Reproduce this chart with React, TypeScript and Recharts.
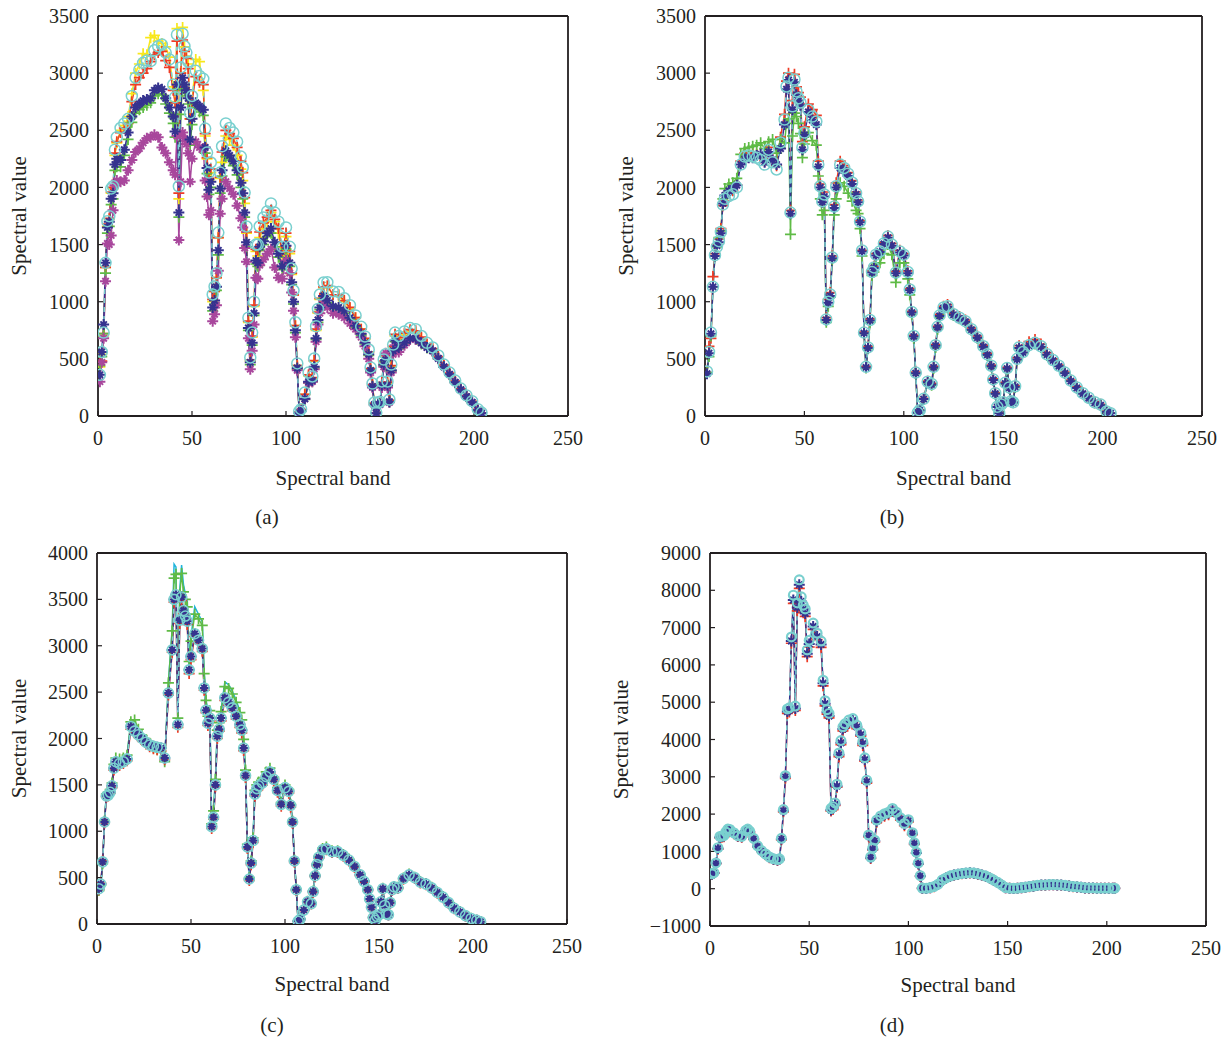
import React from "react";
import { LineChart, Line, XAxis, YAxis, Label } from "recharts";

const bands = [1,2,3,4,5,6,7,8,9,10,12,14,16,18,20,22,24,26,28,30,32,34,36,38,40,41,42,43,44,45,46,47,48,49,50,52,54,56,57,58,59,60,61,62,63,64,65,66,68,70,72,74,76,77,78,79,80,81,82,83,84,85,86,88,90,92,94,96,98,100,102,103,104,105,106,107,108,110,112,114,115,116,117,118,120,122,125,128,131,134,137,140,142,144,145,146,147,148,149,150,151,152,153,154,155,156,157,158,160,163,166,169,172,175,178,181,184,187,190,193,196,199,202,204];
const bandsD = [1,2,3,4,5,6,7,8,9,10,12,14,16,18,19,20,22,24,26,28,30,32,34,35,36,37,38,39,40,41,42,43,44,45,46,47,48,49,50,52,54,56,57,58,59,60,61,62,63,64,65,66,67,68,70,72,74,76,77,78,79,80,81,82,83,84,86,88,90,92,94,96,98,100,102,103,104,105,106,107,109,111,113,115,117,119,121,123,125,127,129,131,133,135,137,139,141,143,145,147,149,151,153,155,157,159,161,163,165,167,169,171,173,175,177,179,181,183,185,187,189,191,193,195,197,199,201,203,204];
const xTicks = [0,50,100,150,200,250];

const aYellow = [430,540,700,1300,1660,1720,1950,1990,2280,2390,2500,2540,2620,2820,3000,3080,3170,3160,3310,3330,3280,3260,3230,3140,2880,2750,3390,1900,3000,3400,3230,3150,3080,2600,2750,3120,3100,2850,2450,2250,2060,2130,1000,1090,1210,1560,2080,2220,2450,2420,2370,2280,2160,2060,1860,1600,820,480,690,960,1440,1400,1560,1640,1700,1780,1700,1600,1400,1570,1420,1240,1060,790,440,35,55,190,350,330,480,750,900,1020,1120,1130,1060,1050,1000,940,860,760,670,560,410,270,110,28,110,115,285,470,520,285,135,430,600,700,670,710,740,730,680,620,580,515,440,370,300,235,175,125,55,28];
const aRed = [470,480,720,1300,1680,1730,1960,2000,2300,2400,2480,2520,2560,2750,2900,2960,3000,3040,3100,3160,3180,3190,3110,3050,2850,2740,3280,1950,3000,3290,3190,3130,3040,2600,2750,2970,2920,2900,2470,2260,2080,2160,1020,1090,1210,1560,2090,2310,2500,2470,2430,2350,2230,2130,1910,1610,830,490,700,970,1460,1450,1610,1690,1740,1800,1720,1640,1430,1600,1440,1250,1060,790,440,35,55,190,360,335,485,760,910,1030,1130,1140,1060,1060,1010,950,860,760,680,560,415,275,110,28,110,118,295,480,530,295,138,440,610,715,685,725,755,745,690,630,590,520,445,375,305,238,178,128,58,28];
const aGreen = [440,520,720,1250,1600,1660,1850,1900,2150,2180,2180,2280,2420,2570,2650,2680,2700,2720,2740,2800,2820,2810,2730,2650,2560,2440,2860,1740,2640,2900,2850,2800,2730,2370,2550,2700,2660,2630,2300,2120,1940,2000,920,980,1100,1410,1950,2100,2270,2240,2190,2110,2000,1900,1740,1480,750,450,620,880,1330,1310,1450,1500,1570,1600,1480,1390,1280,1460,1310,1150,980,730,410,25,45,145,290,300,420,670,820,930,1030,990,940,930,900,845,775,705,630,530,395,255,98,25,98,103,265,440,480,265,122,395,560,650,590,630,670,670,630,595,565,500,428,362,292,228,168,118,48,24];
const aMagenta = [300,470,680,1180,1510,1500,1580,1800,2020,2060,2050,2060,2150,2240,2310,2340,2390,2430,2440,2460,2440,2350,2300,2220,2150,2110,2450,1540,2050,2480,2430,2380,2300,2050,2250,2400,2350,2340,2060,1920,1760,1800,830,890,970,1270,1770,1900,2050,1990,1940,1840,1730,1650,1470,1350,680,410,570,800,1210,1200,1320,1370,1420,1460,1300,1210,1200,1360,1250,1080,920,690,400,30,45,150,290,300,410,650,800,900,1010,950,900,890,860,810,760,690,610,500,380,250,95,25,95,100,250,430,550,250,120,380,540,620,560,620,670,670,640,600,570,505,430,365,295,230,170,120,50,25];
const aNavy = [360,560,800,1340,1650,1700,1900,1950,2200,2250,2240,2330,2480,2620,2700,2730,2760,2770,2780,2850,2870,2860,2780,2700,2620,2490,2900,1780,2700,2960,2900,2850,2780,2420,2600,2740,2710,2680,2350,2170,1980,2050,950,1010,1130,1450,1990,2150,2320,2280,2230,2150,2040,1950,1780,1520,770,470,640,900,1360,1340,1480,1530,1600,1640,1520,1420,1310,1490,1340,1170,1000,750,420,25,45,150,300,310,430,680,840,950,1050,1010,960,950,920,860,790,720,640,540,400,260,100,25,100,105,270,450,490,270,125,400,570,660,600,640,680,680,640,600,570,505,430,365,295,230,170,120,50,25];
const aTeal = [360,560,730,1340,1705,1748,1990,2010,2330,2440,2520,2560,2600,2800,2960,3030,3090,3110,3105,3200,3235,3250,3180,3120,2900,2790,3337,2010,3050,3345,3235,3180,3100,2650,2800,3020,2975,2950,2515,2305,2130,2218,1063,1133,1250,1605,2130,2360,2560,2520,2480,2400,2270,2174,1955,1658,860,512,730,1000,1500,1500,1660,1737,1790,1860,1780,1700,1480,1650,1480,1290,1098,820,460,40,60,205,380,346,503,785,937,1063,1168,1170,1090,1085,1030,970,880,780,696,582,425,284,118,30,118,125,302,494,540,302,144,450,625,730,700,740,770,760,700,640,600,530,450,380,310,240,180,130,60,30];

const bRed = [380,610,680,1220,1420,1500,1550,1640,1840,1880,1950,1970,2020,2230,2300,2310,2300,2290,2260,2230,2350,2250,2190,2440,2640,2930,3000,1800,2760,2990,2880,2830,2790,2400,2530,2730,2680,2630,2230,2030,1900,1960,860,1020,1080,1400,1850,2040,2230,2190,2130,2060,1960,1890,1710,1450,735,435,610,850,1270,1310,1420,1450,1520,1580,1510,1265,1450,1420,1270,1115,915,705,385,32,52,155,305,285,435,625,785,890,960,975,900,870,840,770,700,620,550,445,325,205,82,26,102,122,295,425,255,135,122,265,510,615,590,650,670,630,555,500,445,385,315,255,205,165,125,102,42,26];
const bGreen = [380,520,700,1130,1400,1480,1560,1620,1900,1990,2030,2040,2080,2290,2340,2350,2360,2370,2390,2340,2400,2420,2300,2420,2390,2560,2600,1590,2450,2650,2620,2560,2470,2260,2380,2480,2410,2370,2100,1900,1760,1800,820,960,1040,1370,1760,1900,2040,2010,1950,1880,1800,1770,1640,1400,720,420,590,820,1230,1260,1330,1340,1420,1500,1410,1170,1340,1340,1200,1060,890,680,370,28,48,145,290,270,415,600,760,865,935,945,880,850,820,750,680,600,530,430,315,195,78,24,98,115,280,410,245,125,115,250,490,590,555,615,630,600,530,485,435,375,305,245,195,155,115,95,38,24];
const bNavy = [370,550,720,1130,1400,1490,1520,1600,1860,1930,1970,1990,2020,2200,2250,2260,2260,2280,2290,2220,2310,2240,2200,2340,2550,2860,2940,1770,2680,2920,2810,2760,2720,2330,2460,2660,2590,2550,2180,2000,1870,1920,840,990,1050,1380,1820,2000,2170,2150,2100,2030,1940,1870,1695,1440,725,425,595,835,1255,1295,1405,1435,1505,1560,1490,1250,1430,1405,1250,1100,905,695,375,28,48,148,295,275,425,615,775,875,945,955,885,855,825,755,685,605,535,435,315,195,78,24,98,118,285,415,245,128,118,255,495,595,555,615,635,605,535,485,435,375,305,245,195,155,115,95,38,24];
const bTeal = [390,560,730,1130,1407,1480,1530,1610,1850,1900,1925,1940,2000,2200,2270,2280,2270,2260,2240,2200,2330,2220,2157,2393,2594,2883,2960,1780,2710,2944,2840,2780,2743,2350,2480,2680,2620,2577,2200,2010,1878,1938,845,1000,1063,1387,1833,2010,2200,2170,2120,2043,1950,1878,1702,1448,730,430,600,840,1260,1300,1412,1440,1510,1570,1500,1255,1440,1412,1260,1107,910,700,380,30,50,150,300,280,430,620,780,880,950,960,890,860,830,760,690,610,540,440,320,200,80,25,100,120,290,420,250,130,120,260,500,600,560,620,640,610,540,490,440,380,310,250,200,160,120,100,40,25];

const cCyan = [350,410,640,1120,1410,1430,1460,1530,1730,1800,1790,1800,1830,2170,2190,2090,2020,1980,1940,1895,1885,1870,1760,2610,3190,3880,3850,2240,3600,3870,3660,3560,3480,2860,3100,3420,3340,3260,2730,2430,2260,2320,1090,1230,1570,2100,2190,2310,2610,2580,2510,2410,2300,2210,2000,1670,865,505,685,935,1445,1505,1535,1575,1645,1685,1585,1475,1315,1505,1455,1295,1115,695,378,33,53,156,246,226,356,526,646,731,816,831,791,791,751,701,626,536,466,376,273,183,73,41,83,103,246,386,206,113,103,236,376,406,396,496,541,506,456,436,396,346,296,236,176,136,93,63,41,26];
const cGreen = [360,420,650,1110,1400,1420,1450,1520,1720,1790,1780,1790,1820,2180,2200,2100,2030,1990,1950,1900,1880,1860,1750,2600,3160,3730,3770,2220,3550,3780,3580,3500,3420,2830,3050,3340,3290,3220,2700,2410,2240,2300,1080,1220,1560,2090,2170,2290,2560,2540,2480,2390,2280,2200,1990,1660,860,500,680,930,1440,1500,1530,1570,1640,1680,1580,1470,1310,1500,1450,1290,1110,690,375,32,52,155,245,225,355,525,645,730,815,830,790,790,750,700,625,535,465,375,272,182,72,41,82,102,245,385,205,112,102,235,375,405,395,495,540,505,455,435,395,345,295,235,175,135,92,62,41,26];
const cRed = [370,440,680,1090,1370,1380,1410,1470,1660,1730,1710,1730,1760,2100,2060,2020,1980,1940,1910,1890,1880,1870,1770,2470,2930,3470,3520,2120,3240,3490,3350,3290,3230,2700,2850,3100,3030,2940,2520,2280,2140,2190,1030,1130,1480,2000,2080,2190,2410,2360,2300,2210,2120,2060,1870,1580,815,470,640,880,1380,1440,1470,1500,1570,1620,1540,1420,1270,1450,1410,1260,1085,665,360,28,48,145,232,215,340,510,630,710,790,800,770,770,730,680,610,520,450,360,262,175,68,38,78,97,235,372,195,107,97,225,362,392,382,482,522,492,442,422,382,332,282,225,165,125,87,58,38,24];
const cNavy = [380,430,670,1100,1380,1390,1420,1490,1680,1750,1730,1750,1780,2130,2080,2040,2000,1960,1930,1916,1905,1897,1790,2490,2955,3500,3550,2150,3276,3525,3380,3320,3265,2740,2885,3130,3060,2970,2545,2305,2165,2220,1050,1150,1500,2025,2100,2220,2440,2390,2330,2240,2150,2090,1897,1600,830,485,657,900,1400,1460,1490,1520,1590,1640,1560,1440,1290,1470,1430,1280,1100,680,370,30,50,150,240,220,350,520,640,720,800,810,780,780,740,690,620,530,460,370,270,180,70,40,80,100,240,380,200,110,100,230,370,400,390,490,530,500,450,430,390,340,290,230,170,130,90,60,40,25];
const cTeal = [380,430,670,1100,1380,1390,1420,1490,1680,1750,1730,1750,1780,2130,2080,2040,2000,1960,1930,1916,1905,1897,1790,2490,2955,3500,3550,2150,3276,3525,3380,3320,3265,2740,2885,3130,3060,2970,2545,2305,2165,2220,1050,1150,1500,2025,2100,2220,2440,2390,2330,2240,2150,2090,1897,1600,830,485,657,900,1400,1460,1490,1520,1590,1640,1560,1440,1290,1470,1430,1280,1100,680,370,30,50,150,240,220,350,520,640,720,800,810,780,780,740,690,620,530,460,370,270,180,70,40,80,100,240,380,200,110,100,230,370,400,390,490,530,500,450,430,390,340,290,230,170,130,90,60,40,25];

const dRed = [380,420,670,1060,1360,1380,1390,1490,1570,1560,1470,1400,1380,1530,1570,1510,1320,1120,1000,910,830,780,760,780,1310,2060,2960,4700,4740,6580,7650,4780,7450,8050,7600,7400,7300,6220,6480,6950,6680,6470,5440,4900,4680,4580,2080,2120,2230,2720,3540,3860,4230,4320,4430,4470,4290,4090,3840,3420,2830,1390,810,1040,1250,1780,1880,1940,1980,2070,1980,1840,1690,1790,1450,1190,950,660,330,10,5,25,55,110,220,280,330,360,380,400,410,420,410,390,360,330,280,225,165,95,25,10,5,10,25,35,55,65,85,95,95,105,105,100,95,85,70,55,45,35,20,15,15,10,10,10,10,10,10];
const dNavy = [390,420,680,1080,1380,1400,1410,1500,1590,1570,1490,1410,1390,1550,1590,1530,1340,1140,1010,920,840,790,770,790,1330,2090,3000,4750,4790,6640,7740,4830,7540,8150,7700,7490,7380,6300,6560,7030,6760,6550,5510,4960,4730,4630,2110,2160,2260,2750,3590,3910,4280,4370,4470,4510,4340,4130,3890,3460,2870,1420,830,1060,1280,1810,1920,1980,2020,2110,2010,1870,1720,1820,1480,1210,960,670,340,15,8,28,58,115,225,285,335,365,385,405,415,425,415,395,365,335,285,228,168,98,28,12,8,12,28,38,58,68,88,98,98,108,108,102,98,88,72,58,48,38,22,18,18,12,12,12,12,12,12];
const dTeal = [400,430,690,1100,1400,1410,1420,1520,1600,1590,1500,1420,1400,1560,1600,1540,1350,1150,1020,930,850,800,780,800,1350,2120,3030,4820,4850,6750,7870,4895,7660,8280,7825,7600,7500,6400,6660,7120,6850,6640,5590,5040,4800,4700,2150,2200,2300,2800,3640,3970,4340,4420,4520,4560,4385,4180,3940,3510,2910,1440,850,1090,1300,1840,1950,2010,2050,2150,2050,1900,1750,1850,1500,1230,980,690,350,18,10,30,60,120,230,290,340,370,390,410,420,430,420,400,370,340,290,230,170,100,30,15,10,15,30,40,60,70,90,100,100,110,110,105,100,90,75,60,50,40,25,20,20,15,15,15,15,15,15];

const YELLOW = "#f8e71c", RED = "#ee3b24", GREEN = "#5fbb46", MAGENTA = "#a8479c", NAVY = "#35338f", TEAL = "#7ad0cf", CYAN = "#1fb4dc";
const INK = "#231f20";
const FONT = "'Liberation Serif', serif";

const PLUS = "M-5.5 0H5.5M0-5.5V5.5";
const STAR = "M-5.5 0H5.5M0-5.5V5.5M-3.2-3.2L3.2 3.2M-3.2 3.2L3.2-3.2";

function marker(kind: string, color: string, size: number, ring: number) {
  return (p: any) => {
    if (p.cx == null || p.cy == null) return <g key={p.index} />;
    if (kind === "circle") return <circle key={p.index} cx={p.cx} cy={p.cy} r={size} fill="none" stroke={color} strokeWidth={ring} />;
    return <path key={p.index} transform={`translate(${p.cx},${p.cy})`} d={kind === "star" ? STAR : PLUS} fill="none" stroke={color} strokeWidth={kind === "star" ? 2 : 1.7} />;
  };
}

type S = { key: string; color: string; kind: string; values: number[]; dash?: string };
type Panel = { caption: string; capX: number; capY: number; left: number; top: number; L: number; R: number; T: number; B: number; yTicks: number[]; labelX: number; xLabelOffset: number; xs: number[]; series: S[]; r: number; ring: number };

const panels: Panel[] = [
  { caption: "(a)", capX: 267, capY: 517, left: 0, top: 0, L: 98, R: 568, T: 16, B: 416, yTicks: [0,500,1000,1500,2000,2500,3000,3500], labelX: 19, xLabelOffset: 54, xs: bands, r: 5.5, ring: 1.5, series: [
    { key: "yellow", color: YELLOW, kind: "plus", values: aYellow },
    { key: "red", color: RED, kind: "plus", values: aRed },
    { key: "green", color: GREEN, kind: "plus", values: aGreen },
    { key: "magenta", color: MAGENTA, kind: "star", values: aMagenta },
    { key: "navy", color: NAVY, kind: "star", values: aNavy },
    { key: "teal", color: TEAL, kind: "circle", values: aTeal, dash: "5 4" },
  ]},
  { caption: "(b)", capX: 892, capY: 517, left: 600, top: 0, L: 705, R: 1202, T: 16, B: 416, yTicks: [0,500,1000,1500,2000,2500,3000,3500], labelX: 626, xLabelOffset: 54, xs: bands, r: 5.5, ring: 1.5, series: [
    { key: "red", color: RED, kind: "plus", values: bRed },
    { key: "green", color: GREEN, kind: "plus", values: bGreen },
    { key: "navy", color: NAVY, kind: "star", values: bNavy },
    { key: "teal", color: TEAL, kind: "circle", values: bTeal, dash: "5 4" },
  ]},
  { caption: "(c)", capX: 272, capY: 1025, left: 0, top: 530, L: 97, R: 567, T: 553, B: 924, yTicks: [0,500,1000,1500,2000,2500,3000,3500,4000], labelX: 19, xLabelOffset: 52, xs: bands, r: 5, ring: 1.6, series: [
    { key: "cyan", color: CYAN, kind: "none", values: cCyan },
    { key: "green", color: GREEN, kind: "plus", values: cGreen },
    { key: "red", color: RED, kind: "plus", values: cRed },
    { key: "navy", color: NAVY, kind: "star", values: cNavy },
    { key: "teal", color: TEAL, kind: "circle", values: cTeal, dash: "5 4" },
  ]},
  { caption: "(d)", capX: 892, capY: 1025, left: 600, top: 530, L: 710, R: 1206, T: 553, B: 926, yTicks: [-1000,0,1000,2000,3000,4000,5000,6000,7000,8000,9000], labelX: 621, xLabelOffset: 51, xs: bandsD, r: 4.4, ring: 2.2, series: [
    { key: "red", color: RED, kind: "plus", values: dRed },
    { key: "navy", color: NAVY, kind: "star", values: dNavy },
    { key: "teal", color: TEAL, kind: "circle", values: dTeal, dash: "5 4" },
  ]},
];

const tickStyle = { fontFamily: FONT, fontSize: 20, fill: INK };
const labelStyle = { fontFamily: FONT, fontSize: 21, fill: INK, textAnchor: "middle" as const };
const fmt = (v: number) => (v < 0 ? `\u2212${-v}` : `${v}`);
const axisLine = { stroke: INK, strokeWidth: 1.8 };
const tickLine = { stroke: INK, strokeWidth: 1.2 };

function PanelChart({ p }: { p: Panel }) {
  const rows = p.xs.map((b, i) => {
    const row: Record<string, number> = { band: b };
    p.series.forEach((s) => { row[s.key] = s.values[i]; });
    return row;
  });
  const W = 625;
  const H = 509;
  const margin = { left: p.L - p.left - 60, top: p.T - p.top - 1, right: W - (p.R - p.left) - 1, bottom: H - (p.B - p.top) - 45 };
  const dom: [number, number] = [p.yTicks[0], p.yTicks[p.yTicks.length - 1]];
  return (
    <div style={{ position: "absolute", left: p.left, top: p.top, width: W, height: H }}>
      <LineChart width={W} height={H} data={rows} margin={margin}>
        <XAxis xAxisId="b" dataKey="band" type="number" domain={[0, 250]} ticks={xTicks} interval={0} height={45} tickSize={-5} tickMargin={20} axisLine={axisLine} tickLine={tickLine} tick={tickStyle} allowDataOverflow>
          <Label value="Spectral band" position="bottom" offset={p.xLabelOffset - 45} style={labelStyle} />
        </XAxis>
        <XAxis xAxisId="t" orientation="top" dataKey="band" type="number" domain={[0, 250]} ticks={xTicks} interval={0} height={1} tickSize={-5} tick={false} axisLine={axisLine} tickLine={tickLine} allowDataOverflow />
        <YAxis yAxisId="l" type="number" domain={dom} ticks={p.yTicks} interval={0} width={60} tickSize={-5} tickMargin={14} axisLine={axisLine} tickLine={tickLine} tick={tickStyle} tickFormatter={fmt} allowDataOverflow>
          <Label value="Spectral value" angle={-90} position="insideLeft" offset={p.labelX - p.L + 60} style={labelStyle} />
        </YAxis>
        <YAxis yAxisId="r" orientation="right" type="number" domain={dom} ticks={p.yTicks} interval={0} width={1} tickSize={-5} tick={false} axisLine={axisLine} tickLine={tickLine} allowDataOverflow />
        {p.series.map((s) => (
          <Line key={s.key} xAxisId="b" yAxisId="l" dataKey={s.key} type="linear" stroke={s.color} strokeWidth={1.5} strokeDasharray={s.dash} dot={s.kind === "none" ? false : marker(s.kind, s.color, p.r, p.ring)} activeDot={false} isAnimationActive={false} legendType="none" />
        ))}
      </LineChart>
    </div>
  );
}

export default function App() {
  return (
    <div style={{ position: "absolute", left: 0, top: 0, width: 1229, height: 1039, background: "#fff", overflow: "hidden" }}>
      {panels.map((p) => <PanelChart key={p.caption} p={p} />)}
      {panels.map((p) => (
        <div key={p.caption + "c"} style={{ position: "absolute", left: p.capX - 30, width: 60, top: p.capY - 12, textAlign: "center", fontFamily: FONT, fontSize: 21, lineHeight: "24px", color: INK }}>{p.caption}</div>
      ))}
    </div>
  );
}
